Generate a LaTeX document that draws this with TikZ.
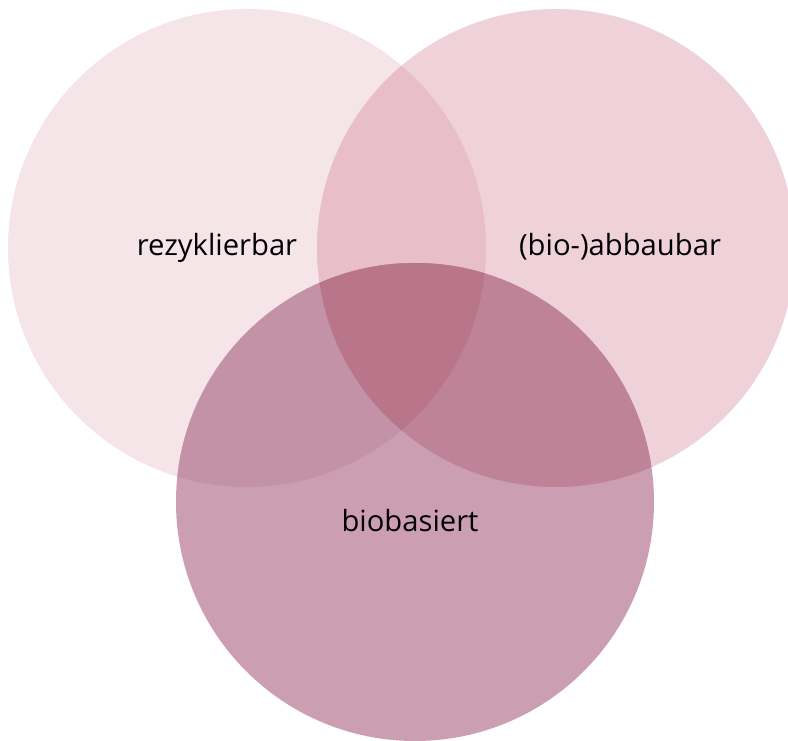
\documentclass[tikz,border=0pt]{standalone}
\usepackage{fontspec}
\setmainfont{Open Sans}
\definecolor{onlyL}{HTML}{F5E4E8}
\definecolor{onlyR}{HTML}{EFD2D9}
\definecolor{onlyB}{HTML}{CB9FB1}
\definecolor{cutLR}{HTML}{E8BFC8}
\definecolor{cutLB}{HTML}{C492A6}
\definecolor{cutRB}{HTML}{BF8397}
\definecolor{cutAll}{HTML}{B9768A}
\begin{document}
\begin{tikzpicture}[
		x=0.5pt, y=0.5pt,
		label/.style={anchor=base, font=\fontsize{14.6}{17}\selectfont, text=black}
	]
	\def\vr{239}
	\useasboundingbox (0,0) rectangle (788,740);
	\clip (0,0) rectangle (788,740);
	\coordinate (cL) at (247,492);
	\coordinate (cR) at (556,492);
	\coordinate (cB) at (415,238);
	% single circles
	\fill[onlyL] (cL) circle (\vr);
	\fill[onlyR] (cR) circle (\vr);
	\fill[onlyB] (cB) circle (\vr);
	% overlaps
	\begin{scope}
		\clip (cL) circle (\vr);
		\fill[cutLR] (cR) circle (\vr);
		\fill[cutLB] (cB) circle (\vr);
	\end{scope}
	\begin{scope}
		\clip (cR) circle (\vr);
		\fill[cutRB] (cB) circle (\vr);
		\clip (cB) circle (\vr);
		\fill[cutAll] (cL) circle (\vr);
	\end{scope}
	\node[label] (rez) at (217,484) {rezyklierbar};
	\node[label] (abb) at (620,484) {(bio-)abbaubar};
	\node[label] (bio) at (410,208) {biobasiert};
\end{tikzpicture}
\end{document}
